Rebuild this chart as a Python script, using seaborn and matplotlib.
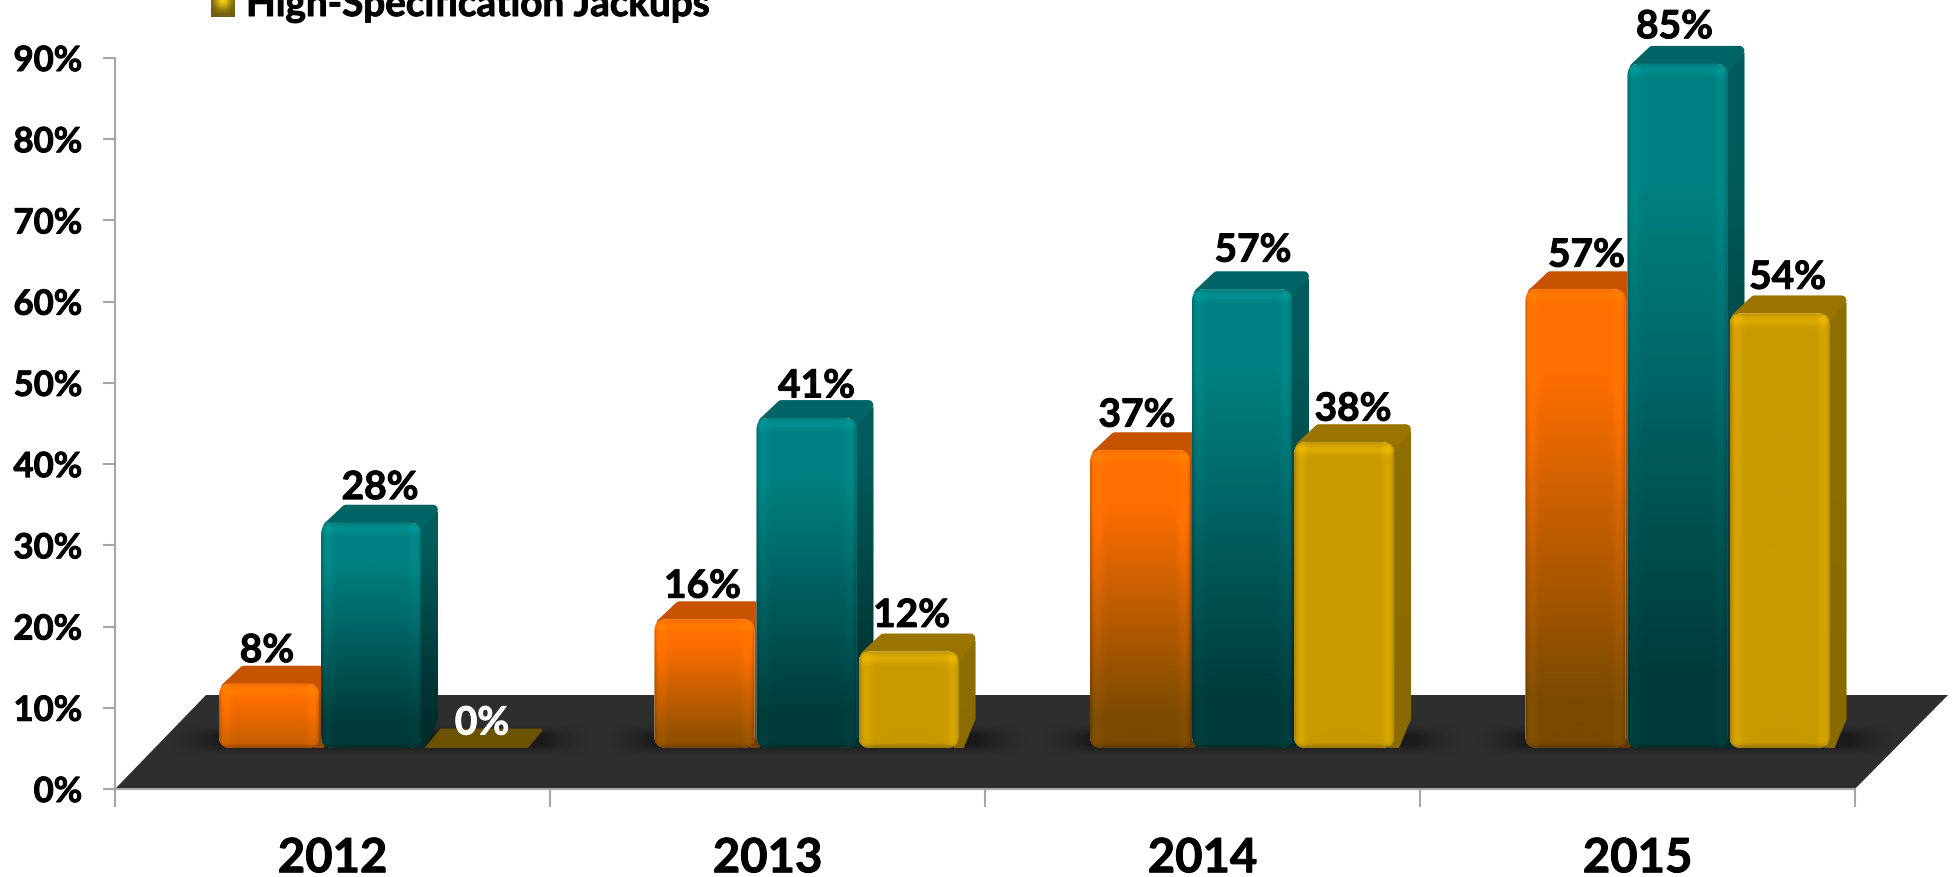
import numpy as np
import pandas as pd
import matplotlib
matplotlib.use("Agg")
import matplotlib.pyplot as plt
import matplotlib.patheffects as pe
from matplotlib.patches import FancyBboxPatch, Polygon
import seaborn as sns

# Chart values
years = ["2012", "2013", "2014", "2015"]
series_names = ["Standard Jackups", "Deepwater Floaters", "High-Specification Jackups"]
standard = [8, 16, 37, 57]
deepwater = [28, 41, 57, 85]
high_spec = [0, 12, 38, 54]
y_tick_values = [0, 10, 20, 30, 40, 50, 60, 70, 80, 90]

# Label nudges per bar in pixels, same order as the values
label_dx = [[-2, -2, -3, 11], [9, 10, 11, -3], [9, 3, 9, 8]]
label_dy = [[33, 33, 35, 34], [35, 32, 39, 37], [25, 36, 33, 36]]

# Front, cap and side colours per series
front_top = ["#ff6e00", "#008080", "#c89a00"]
front_bottom = ["#7a4a00", "#003a3a", "#c89a00"]
cap_colors = ["#c75300", "#006464", "#9a7400"]
side_top = ["#b85000", "#005c5c", "#8f6e00"]
side_bottom = ["#5f3a00", "#002c2c", "#8a6a00"]
flat_zero_color = "#6b5200"

FIG_W, FIG_H = 1955, 877
sns.set_theme(style="white")
plt.rcParams["font.family"] = ["Lato", "DejaVu Sans"]
plt.rcParams["font.weight"] = "bold"

# A thin outline thickens the bold lettering
HEAVY = [pe.withStroke(linewidth=0.7, foreground="black")]
HEAVY_WHITE = [pe.withStroke(linewidth=0.7, foreground="white")]

fig = plt.figure(figsize=(FIG_W / 100, FIG_H / 100), dpi=100, facecolor="white")


def axes_from_pixels(left, right, top, bottom, **kw):
    return fig.add_axes([left / FIG_W, 1 - bottom / FIG_H,
                         (right - left) / FIG_W, (bottom - top) / FIG_H], **kw)


# Main axes: percentage scale, category ticks and the floor slab
ax = axes_from_pixels(115, 1855, 58, 789)
ax.set_xlim(-0.5, 3.5)
ax.set_ylim(0, 90)
ax.set_yticks(y_tick_values)
ax.set_yticklabels([f"{v}%" for v in y_tick_values], fontsize=25, fontweight="bold", color="black")
ax.set_xticks(np.arange(-0.5, 4, 1))
ax.set_xticklabels([])
ax.set_xticks(range(len(years)), labels=years, minor=True)
ax.tick_params(axis="x", which="major", length=13, width=1.5, color="#a6a6a6", bottom=True)
ax.tick_params(axis="x", which="minor", length=0, pad=34, labelsize=34, labelcolor="black")
ax.tick_params(axis="y", length=8.5, width=1.5, color="#a6a6a6", left=True, pad=15)
for lab in ax.get_xticklabels(minor=True) + ax.get_yticklabels():
    lab.set_fontweight("bold")
    lab.set_path_effects(HEAVY)
for side in ("top", "right"):
    ax.spines[side].set_visible(False)
for side in ("left", "bottom"):
    ax.spines[side].set_color("#a6a6a6")
    ax.spines[side].set_linewidth(1.5)
ax.patch.set_alpha(0)

floor = Polygon([(0, 0), (1, 0), (1.0535, 94 / 731), (0.0523, 94 / 731)],
                closed=True, transform=ax.transAxes, facecolor="#2e2e2e",
                edgecolor="none", clip_on=False, zorder=1)
ax.add_patch(floor)

# Bar axes: its own scale, set back from the front edge of the floor
PX_PER_PCT = 8.05
BASE_Y = 748
PITCH = 435.5
bars_ax = axes_from_pixels(371 - 0.5 * PITCH, 371 + 3.5 * PITCH, BASE_Y - 90 * PX_PER_PCT, BASE_Y)
bars_ax.patch.set_alpha(0)

frame = pd.DataFrame({
    "year": np.repeat(years, 3),
    "series": series_names * 4,
    "value": [v for trio in zip(standard, deepwater, high_spec) for v in trio],
})
sns.barplot(data=frame, x="year", y="value", hue="series", order=years,
            hue_order=series_names, palette=front_top, width=0.703, gap=0.02,
            saturation=1, legend=False, ax=bars_ax, zorder=3)
bars_ax.set_xlim(-0.5, 3.5)
bars_ax.set_ylim(0, 90)
bars_ax.axis("off")

sx = 1 / PITCH            # data units per pixel along x
sy = 1 / PX_PER_PCT       # data units per pixel along y
DEPTH_X, DEPTH_Y = 18 * sx, 19 * sy
ROUND_PX = 12


def rgb(color):
    return np.array(matplotlib.colors.to_rgb(color))


def front_image(value, width_px, height_px, top, bottom):
    """Vertical gradient with a soft bevel along the edges of the face."""
    h, w = max(int(height_px), 2), max(int(width_px), 2)
    t = np.linspace(0, 1, h)
    ramp = np.clip((t - 0.18) / 0.72, 0, 1) * min(1.0, value / 20)
    colors = rgb(top)[None, :] * (1 - ramp[:, None]) + rgb(bottom)[None, :] * ramp[:, None]
    img = np.repeat(colors[:, None, :], w, axis=1)
    xx = np.arange(w)
    dist_x = np.minimum(xx, w - 1 - xx)
    dist_y_top = np.arange(h)
    dist_y_bot = h - 1 - np.arange(h)
    gain_x = 1 + 0.07 * np.exp(-((dist_x - 7) / 5.0) ** 2) - 0.15 * np.exp(-(dist_x / 2.0) ** 2)
    gain_top = 1 + 0.10 * np.exp(-((dist_y_top - 7) / 5.0) ** 2) - 0.06 * np.exp(-(dist_y_top / 2.0) ** 2)
    gain_bot = 1 - 0.22 * np.exp(-(dist_y_bot / 3.0) ** 2)
    gain = gain_x[None, :] * (gain_top * gain_bot)[:, None]
    return np.clip(img * gain[:, :, None], 0, 1)


def soft_shadow(x0, x1, y0, y1, zorder):
    """Dark blurred pool on the floor under a group of bars."""
    h, w = 60, 300
    xs = np.linspace(0, 1, w)
    ys = np.linspace(0, 1, h)
    ax_profile = np.clip(np.minimum(xs, 1 - xs) / 0.12, 0, 1) ** 1.5
    ay_profile = np.clip(np.minimum(ys, 1 - ys) / 0.35, 0, 1) ** 1.5
    img = np.zeros((h, w, 4))
    img[..., 3] = 0.42 * ay_profile[:, None] * ax_profile[None, :]
    bars_ax.imshow(img, extent=[x0, x1, y0, y1], aspect="auto", zorder=zorder,
                   interpolation="bilinear", clip_on=False)


rects = list(bars_ax.patches)
n_series = len(series_names)
n_years = len(years)

for yi in range(n_years):
    group = [r for r in rects if abs(r.get_x() + r.get_width() / 2 - yi) < 0.4]
    x_lo = min(r.get_x() for r in group)
    x_hi = max(r.get_x() + r.get_width() for r in group)
    soft_shadow(x_lo - 50 * sx, x_hi + 70 * sx, -9 * sy, 25 * sy, 2)

for si in range(n_series):
    values = [standard, deepwater, high_spec][si]
    for yi in range(n_years):
        rect = rects[si * n_years + yi]
        x0, x1 = rect.get_x(), rect.get_x() + rect.get_width()
        v = rect.get_height()
        z = 3 + si
        if v == 0:
            flat = Polygon([(x0, -4 * sy), (x1, -4 * sy),
                            (x1 + DEPTH_X, 18 * sy), (x0 + DEPTH_X, 18 * sy)],
                           closed=True, facecolor=flat_zero_color, edgecolor=flat_zero_color,
                           linewidth=2, joinstyle="round", zorder=z)
            bars_ax.add_patch(flat)
            rect.set_visible(False)
        else:
            # Right side face
            side_poly = Polygon([(x1 - 5 * sx, 0), (x1 - 5 * sx, v),
                                 (x1 + DEPTH_X - 1 * sx, v + DEPTH_Y - 8 * sy),
                                 (x1 + DEPTH_X - 1 * sx, 29 * sy), (x1 + 5 * sx, 0)],
                                closed=True, facecolor="none", edgecolor="none",
                                linewidth=0, zorder=z)
            bars_ax.add_patch(side_poly)
            ramp = np.clip((np.linspace(0, 1, 80) - 0.15) / 0.75, 0, 1) * min(1.0, v / 20)
            side_img = (rgb(side_top[si]) * (1 - ramp[:, None]) + rgb(side_bottom[si]) * ramp[:, None])[:, None, :]
            im = bars_ax.imshow(side_img, extent=[x1 - 5 * sx, x1 + DEPTH_X, 0, v + DEPTH_Y],
                                aspect="auto", zorder=z, interpolation="bilinear")
            im.set_clip_path(side_poly)

            # Top cap
            cap = Polygon([(x0 + 7 * sx, v - 4 * sy), (x1 - 2 * sx, v - 4 * sy),
                           (x1 + DEPTH_X - 6 * sx, v + DEPTH_Y - 6 * sy),
                           (x0 + DEPTH_X + 7 * sx, v + DEPTH_Y - 6 * sy)],
                          closed=True, facecolor=cap_colors[si], edgecolor=cap_colors[si],
                          linewidth=7, joinstyle="round", zorder=z)
            bars_ax.add_patch(cap)

            # Front face, rounded and shaded over the seaborn bar
            round_box = FancyBboxPatch((x0, 0), x1 - x0, v,
                                       boxstyle=f"round,pad=0,rounding_size={ROUND_PX * sx}",
                                       mutation_aspect=sy / sx, facecolor="none",
                                       edgecolor="none", zorder=z)
            bars_ax.add_patch(round_box)
            rect.set_clip_path(round_box)
            rect.set_zorder(z + 0.1)
            width_px = (x1 - x0) / sx
            height_px = v / sy
            face = bars_ax.imshow(front_image(v, width_px, height_px, front_top[si], front_bottom[si]),
                                  extent=[x0, x1, 0, v], aspect="auto", zorder=z + 0.2,
                                  interpolation="bilinear")
            face.set_clip_path(round_box)

        # Value label above the bar
        bars_ax.annotate(f"{values[yi]}%", xy=((x0 + x1) / 2, v),
                         xytext=(label_dx[si][yi] * 0.72, label_dy[si][yi] * 0.72),
                         textcoords="offset points", ha="center", va="center",
                         fontsize=28, fontweight="bold",
                         color="white" if v == 0 else "black",
                         path_effects=HEAVY_WHITE if v == 0 else HEAVY,
                         annotation_clip=False, zorder=10)

bars_ax.set_xlim(-0.5, 3.5)
bars_ax.set_ylim(0, 90)

# Legend entry for the third series along the top edge
fig.text(246 / FIG_W, 1 - 16 / FIG_H, series_names[2], fontsize=27.8, fontweight="bold",
         color="black", ha="left", va="baseline", path_effects=HEAVY)
swatch_ax = axes_from_pixels(211, 235, -2, 17)
yy, xx = np.mgrid[0:1:30j, 0:1:30j]
glow = np.exp(-(((xx - 0.5) / 0.35) ** 2 + ((yy - 0.1) / 0.5) ** 2))[:, :, None]
swatch_ax.imshow(rgb("#6e5a12") * (1 - glow) + rgb("#f2cf10") * glow, aspect="auto", interpolation="bilinear")
swatch_ax.axis("off")

fig.savefig("out.png", dpi=100, facecolor="white")
